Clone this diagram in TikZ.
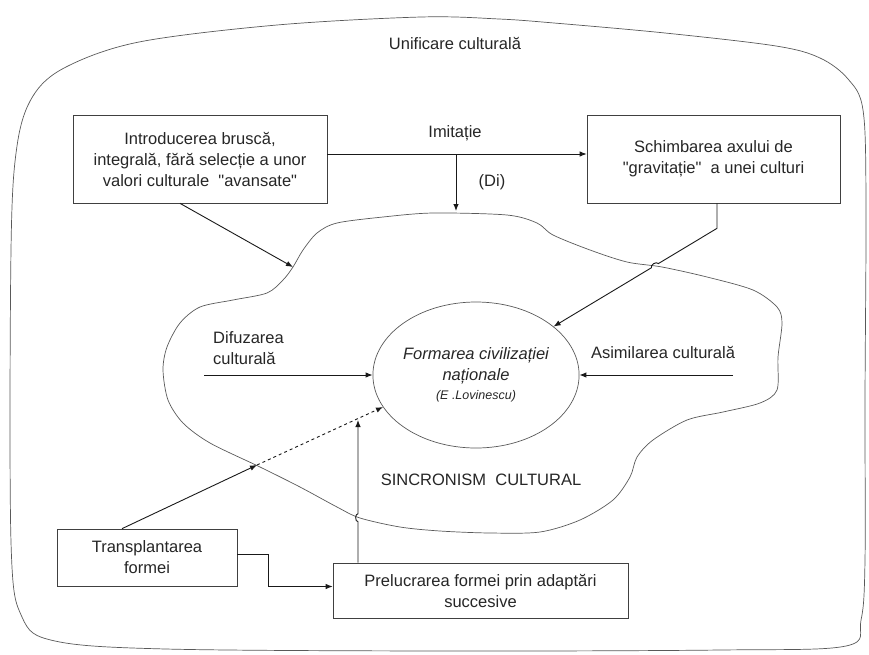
\documentclass[tikz,border=0pt]{standalone}
\usepackage{fontspec}
\setmainfont{Liberation Sans}[Ligatures=TeXOff]
\usetikzlibrary{positioning,calc,shapes.geometric,arrows.meta}

\begin{document}
\begin{tikzpicture}[x=1pt,y=-1pt,
    font=\fontsize{16.5}{21}\selectfont,
    every node/.style={inner sep=0pt,text=black!85},
    box/.style={draw=black!75,line width=0.7pt,align=center},
    arr/.style={-{Latex[length=7pt,width=5.5pt]},line width=0.9pt,draw=black!90},
    blob/.style={draw=black!65,line width=0.7pt}]
    \useasboundingbox (0,0) rectangle (869,654);

    % outer region
    \draw[blob] plot[smooth cycle,tension=0.55] coordinates {
      (421,17) (499,19) (554,23) (665,33) (776,46) (820,58) (848,79)
      (863,110) (866,200) (865,400) (865,560) (861,620) (846,646)
      (720,650) (443,651) (166,649) (55,641) (22,617) (11,542)
      (11,250) (17,146) (33,96) (66,67) (139,42) (277,25)};

    % inner region
    \draw[blob] plot[smooth cycle,tension=0.5] coordinates {
      (433,213) (507,215) (537,223) (553,235) (590,250) (627,262)
      (662,267) (707,277) (753,290) (777,307) (782,323) (778,357)
      (777,390) (760,403) (723,412) (687,420) (653,440) (637,457)
      (630,477) (613,500) (580,520) (540,532) (490,533) (440,531)
      (400,527) (360,518) (337,507) (300,487) (260,467) (210,443)
      (183,423) (168,400) (163,370) (167,347) (180,323) (200,307)
      (233,300) (267,293) (283,280) (293,267) (303,250) (317,233)
      (337,223) (383,217)};

    \node (unif) at (455,43) {Unificare culturală};

    \node[box,minimum width=254pt,minimum height=88pt] (intro) at (200,159)
      {Introducerea bruscă,\\integrală, fără selecție a unor\\valori culturale\ \ "avansate"};
    \node[box,minimum width=253pt,minimum height=88pt] (schimb) at (713.5,159)
      {Schimbarea axului de\\"gravitație"\ \ a unei culturi};
    \node[box,minimum width=180pt,minimum height=57pt] (transp) at (147,557.5)
      {Transplantarea\\formei};
    \node[box,minimum width=295pt,minimum height=55pt] (prel) at (480.5,590.5)
      {Prelucrarea formei prin adaptări\\succesive};

    \node[draw=black!65,line width=0.7pt,ellipse,minimum width=204pt,minimum height=146pt,align=center] (form) at (476,375)
      {\itshape Formarea civilizației\\\itshape naționale\\[-2pt]{\fontsize{12.5}{15}\selectfont\itshape (E .Lovinescu)}};

    \node (imitlab) at (455,133) {Imitație};
    \node (dilab) at (492,182) {(Di)};
    \node[align=left,anchor=west] (difuz) at (213,348) {Difuzarea\\culturală};
    \node (asim) at (663,352) {Asimilarea culturală};
    \node (sincr) at (481,480) {SINCRONISM\ \ CULTURAL};

    \coordinate (imit) at (456,154);
    \coordinate (blobtop) at (456,211);
    \coordinate (blobnw) at (293,267);
    \coordinate (difstart) at (204,375);
    \coordinate (asimstart) at (733,375);
    \coordinate (cross) at (257,465);
    \coordinate (prelend) at (358,420);

    \draw[arr] ([yshift=5pt]intro.east) -- ([yshift=5pt]schimb.west);
    \draw[arr] (imit) -- (blobtop);
    \draw[arr] ([xshift=-20pt]intro.south) -- (blobnw);
    \draw[arr] (difstart) -- (form.west);
    \draw[arr] (asimstart) -- (form.east);
    \draw[arr] ([xshift=-25pt]transp.north) -- (cross);
    \draw[arr,dashed] (cross) -- (form.199);
    \draw[arr] ([yshift=3pt]transp.east) -- ++(31,0) |- ([yshift=4pt]prel.west);

    % line jumps over the inner region
    \coordinate (kink) at ($([xshift=3.5pt]schimb.south)+(0,25)$);
    \coordinate (jumpB) at ($(kink)!0.38!(form.32)$);
    \draw[arr] ([xshift=3.5pt]schimb.south) -- (kink) -- ($(jumpB)!4pt!(kink)$)
      to[bend right=90] ($(jumpB)!4pt!(form.32)$) -- (form.32);

    \coordinate (prelstart) at ([xshift=-122.5pt]prel.north);
    \coordinate (jumpA) at ($(prelstart)!0.315!(prelend)$);
    \draw[arr] (prelstart) -- ($(jumpA)!4pt!(prelstart)$)
      to[bend left=90] ($(jumpA)!4pt!(prelend)$) -- (prelend);
\end{tikzpicture}
\end{document}
